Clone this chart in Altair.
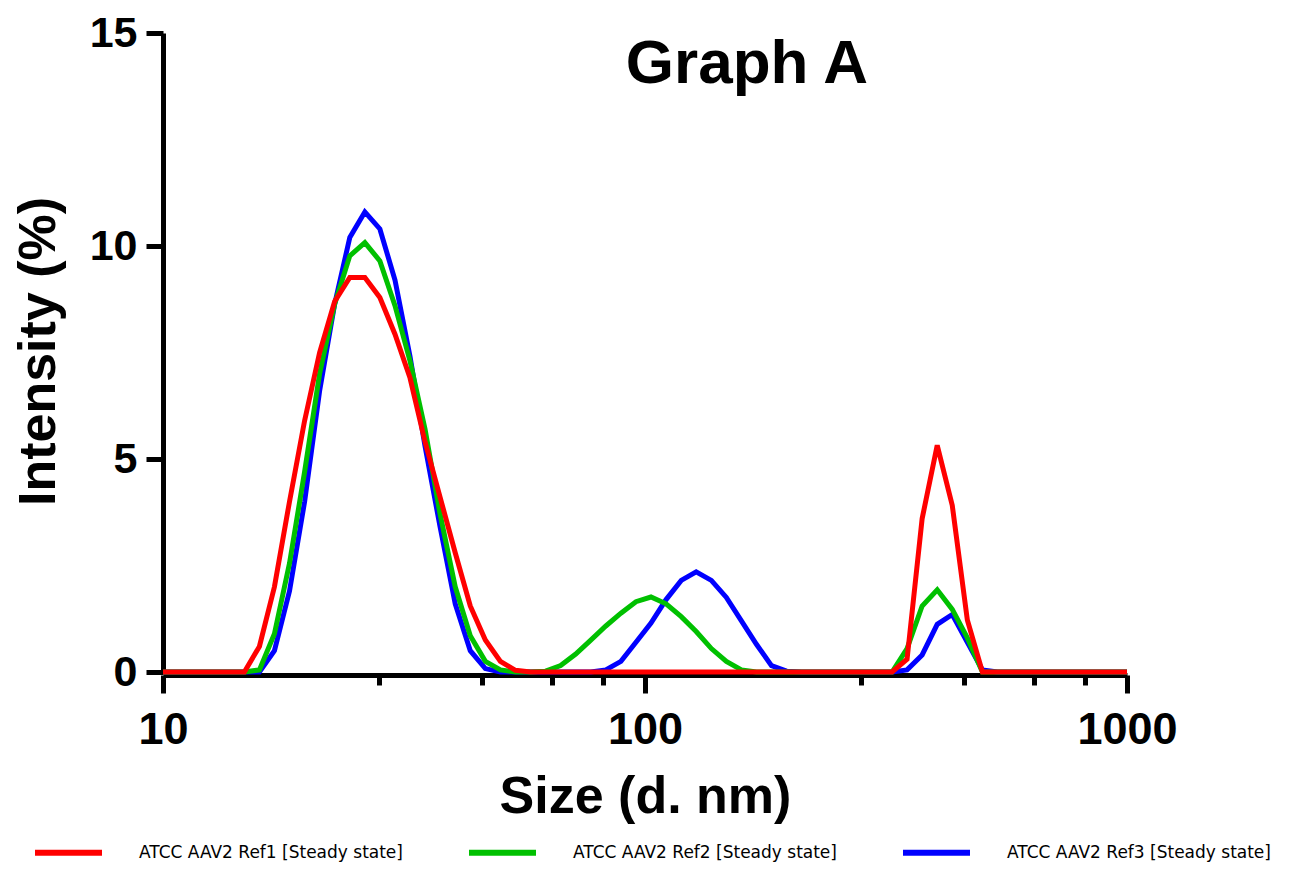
import altair as alt
import pandas as pd

# Size grid (d. nm)
sizes = [10, 10.29, 11.06, 11.89, 12.77, 13.73, 14.75, 15.85, 17.03, 18.30, 19.67,
         21.13, 22.71, 24.41, 26.23, 28.18, 30.29, 32.55, 34.97, 37.58, 40.39,
         43.40, 46.64, 50.12, 53.86, 57.88, 62.19, 66.83, 71.82, 77.18, 82.94,
         89.13, 95.77, 102.9, 110.6, 118.9, 127.7, 137.3, 147.5, 158.5, 170.3,
         183.0, 196.7, 211.3, 227.1, 244.1, 262.3, 281.8, 302.9, 325.5, 349.7,
         375.8, 403.9, 434.0, 466.4, 501.2, 538.6, 578.8, 621.9, 668.3, 718.2,
         771.8, 829.4, 891.3, 957.7, 1000]

ref1 = [0, 0, 0, 0, 0, 0, 0, 0.6, 2.0, 4.0, 5.9,
        7.5, 8.7, 9.26, 9.26, 8.79, 7.93, 6.9, 5.4, 4.1, 2.8,
        1.55, 0.75, 0.25, 0.04, 0, 0, 0, 0, 0, 0,
        0, 0, 0, 0, 0, 0, 0, 0, 0, 0,
        0, 0, 0, 0, 0, 0, 0, 0, 0, 0.3,
        3.6, 5.32, 3.91, 1.22, 0, 0, 0, 0, 0, 0,
        0, 0, 0, 0, 0]

ref2 = [0, 0, 0, 0, 0, 0, 0, 0.05, 0.9, 2.55, 4.7,
        7.0, 8.64, 9.77, 10.08, 9.65, 8.6, 7.3, 5.7, 3.7, 2.0,
        0.85, 0.25, 0.05, 0, 0, 0.02, 0.15, 0.42, 0.75, 1.08,
        1.38, 1.65, 1.76, 1.6, 1.3, 0.95, 0.55, 0.25, 0.05, 0,
        0, 0, 0, 0, 0, 0, 0, 0, 0, 0.55,
        1.55, 1.93, 1.47, 0.8, 0, 0, 0, 0, 0, 0,
        0, 0, 0, 0, 0]

ref3 = [0, 0, 0, 0, 0, 0, 0, 0, 0.5, 1.9, 4.0,
        6.6, 8.64, 10.2, 10.8, 10.4, 9.2, 7.4, 5.3, 3.4, 1.6,
        0.5, 0.08, 0, 0, 0, 0, 0, 0, 0, 0.05,
        0.25, 0.7, 1.15, 1.7, 2.15, 2.35, 2.15, 1.75, 1.2, 0.65,
        0.15, 0.02, 0, 0, 0, 0, 0, 0, 0, 0.05,
        0.4, 1.12, 1.35, 0.7, 0.05, 0, 0, 0, 0, 0,
        0, 0, 0, 0, 0]

series_names = ["ATCC AAV2 Ref1 [Steady state]",
                "ATCC AAV2 Ref2 [Steady state]",
                "ATCC AAV2 Ref3 [Steady state]"]
series_colors = ["#FF0000", "#00C000", "#0000FF"]

x_ticks = [10, 28, 46, 64, 82, 100, 280, 460, 640, 820, 1000]
y_ticks = [0, 5, 10, 15]

FONT = "Liberation Sans"
MAJOR_TEST = "datum.value == 10 || datum.value == 100 || datum.value == 1000"

def frame(name, vals):
    return pd.DataFrame({"size": sizes, "intensity": vals, "series": name})

x_axis = alt.Axis(
    values=x_ticks,
    labelExpr="(" + MAJOR_TEST + ") ? format(datum.value, 'd') : ''",
    tickSize={"condition": {"test": MAJOR_TEST, "value": 18}, "value": 10},
    labelFont=FONT, labelFontSize=45, labelFontWeight="bold", labelColor="black",
    labelPadding=14, labelFlush=False, labelOverlap=False,
    domainWidth=5, domainColor="black", tickWidth=5, tickColor="black",
    grid=False, offset=3,
    title="Size (d. nm)", titleFont=FONT, titleFontSize=52, titleFontWeight="bold",
    titleColor="black", titleY=137, titleBaseline="alphabetic",
)

y_axis = alt.Axis(
    values=y_ticks,
    tickSize=17, labelPadding=9,
    labelFont=FONT, labelFontSize=43, labelFontWeight="bold", labelColor="black",
    labelOverlap=False, labelFlush=False,
    domainWidth=5, domainColor="black", tickWidth=5, tickColor="black",
    grid=False,
    title="Intensity (%)", titleFont=FONT, titleFontSize=52, titleFontWeight="bold",
    titleColor="black", titleX=-125, titleY=318, titleAngle=270, titleBaseline="middle",
)

legend = alt.Legend(
    orient="none", legendX=-131, legendY=783, direction="horizontal",
    title=None, symbolType="stroke", symbolSize=67 * 67, symbolStrokeWidth=6,
    labelFont="DejaVu Sans", labelFontSize=17, labelColor="black",
    labelOffset=34, columnPadding=54, labelLimit=400, padding=0,
)

color = alt.Color("series:N",
                  scale=alt.Scale(domain=series_names, range=series_colors),
                  legend=legend)

def line(name, vals):
    return alt.Chart(frame(name, vals)).mark_line(strokeWidth=5, strokeJoin="miter").encode(
        x=alt.X("size:Q", scale=alt.Scale(type="log", domain=[10, 1000], nice=False), axis=x_axis),
        y=alt.Y("intensity:Q", scale=alt.Scale(domain=[0, 15], nice=False), axis=y_axis),
        color=color,
    )

title_df = pd.DataFrame({"t": ["Graph A"]})
title_layer = alt.Chart(title_df).mark_text(
    font=FONT, fontSize=62, fontWeight="bold", color="black",
    align="center", baseline="alphabetic",
).encode(x=alt.value(584), y=alt.value(50), text="t:N")

chart = alt.layer(
    line(series_names[2], ref3),
    line(series_names[1], ref2),
    line(series_names[0], ref1),
    title_layer,
).properties(
    width=964, height=639,
    autosize=alt.AutoSizeParams(type="none"),
    padding={"left": 155, "top": 25, "right": 170, "bottom": 190},
    background="white",
).configure_view(stroke=None)

chart.save("out.html", embed_options={"renderer": "svg", "actions": False})
